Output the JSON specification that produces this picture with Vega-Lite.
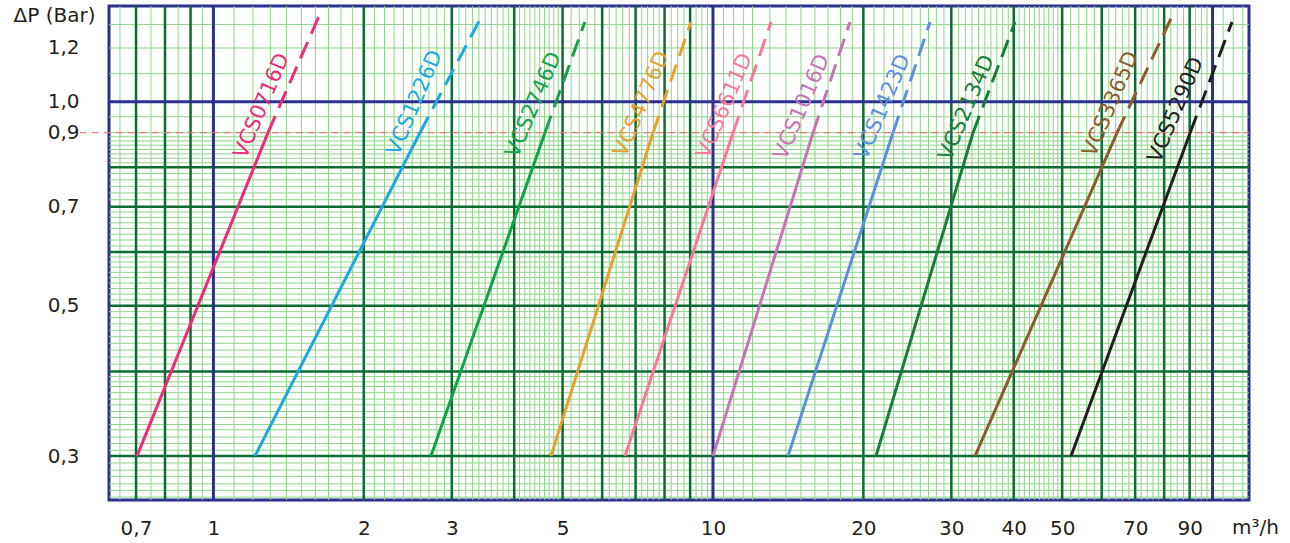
{
  "$schema": "https://vega.github.io/schema/vega-lite/v6.json",
  "width": 1140,
  "height": 494,
  "autosize": {"type": "none"},
  "padding": {"left": 109, "top": 6, "right": 41, "bottom": 43},
  "background": "white",
  "config": {"view": {"stroke": "#2b2f8e", "strokeWidth": 3}, "font": "DejaVu Sans"},
  "datasets": {
    "gx": [
      {"v": 0.65, "k": "minor"}, {"v": 0.75, "k": "minor"}, {"v": 0.85, "k": "minor"}, {"v": 0.95, "k": "minor"},
      {"v": 1.1, "k": "minor"}, {"v": 1.2, "k": "minor"}, {"v": 1.3, "k": "minor"}, {"v": 1.4, "k": "minor"}, {"v": 1.5, "k": "minor"}, {"v": 1.6, "k": "minor"}, {"v": 1.7, "k": "minor"}, {"v": 1.8, "k": "minor"}, {"v": 1.9, "k": "minor"},
      {"v": 2.1, "k": "minor"}, {"v": 2.2, "k": "minor"}, {"v": 2.3, "k": "minor"}, {"v": 2.4, "k": "minor"}, {"v": 2.5, "k": "minor"}, {"v": 2.6, "k": "minor"}, {"v": 2.7, "k": "minor"}, {"v": 2.8, "k": "minor"}, {"v": 2.9, "k": "minor"},
      {"v": 3.1, "k": "minor"}, {"v": 3.2, "k": "minor"}, {"v": 3.3, "k": "minor"}, {"v": 3.4, "k": "minor"}, {"v": 3.5, "k": "minor"}, {"v": 3.6, "k": "minor"}, {"v": 3.7, "k": "minor"}, {"v": 3.8, "k": "minor"}, {"v": 3.9, "k": "minor"},
      {"v": 4.1, "k": "minor"}, {"v": 4.2, "k": "minor"}, {"v": 4.3, "k": "minor"}, {"v": 4.4, "k": "minor"}, {"v": 4.5, "k": "minor"}, {"v": 4.6, "k": "minor"}, {"v": 4.7, "k": "minor"}, {"v": 4.8, "k": "minor"}, {"v": 4.9, "k": "minor"},
      {"v": 5.2, "k": "minor"}, {"v": 5.4, "k": "minor"}, {"v": 5.6, "k": "minor"}, {"v": 5.8, "k": "minor"},
      {"v": 6.2, "k": "minor"}, {"v": 6.4, "k": "minor"}, {"v": 6.6, "k": "minor"}, {"v": 6.8, "k": "minor"},
      {"v": 7.2, "k": "minor"}, {"v": 7.4, "k": "minor"}, {"v": 7.6, "k": "minor"}, {"v": 7.8, "k": "minor"},
      {"v": 8.25, "k": "minor"}, {"v": 8.5, "k": "minor"}, {"v": 8.75, "k": "minor"},
      {"v": 9.25, "k": "minor"}, {"v": 9.5, "k": "minor"}, {"v": 9.75, "k": "minor"},
      {"v": 10.5, "k": "minor"}, {"v": 11, "k": "minor"}, {"v": 11.5, "k": "minor"}, {"v": 12, "k": "minor"}, {"v": 13, "k": "minor"}, {"v": 14, "k": "minor"}, {"v": 15, "k": "minor"}, {"v": 16, "k": "minor"}, {"v": 17, "k": "minor"}, {"v": 18, "k": "minor"}, {"v": 19, "k": "minor"},
      {"v": 21, "k": "minor"}, {"v": 22, "k": "minor"}, {"v": 23, "k": "minor"}, {"v": 24, "k": "minor"}, {"v": 25, "k": "minor"}, {"v": 26, "k": "minor"}, {"v": 27, "k": "minor"}, {"v": 28, "k": "minor"}, {"v": 29, "k": "minor"},
      {"v": 31, "k": "minor"}, {"v": 32, "k": "minor"}, {"v": 33, "k": "minor"}, {"v": 34, "k": "minor"}, {"v": 35, "k": "minor"}, {"v": 36, "k": "minor"}, {"v": 37, "k": "minor"}, {"v": 38, "k": "minor"}, {"v": 39, "k": "minor"},
      {"v": 41, "k": "minor"}, {"v": 42, "k": "minor"}, {"v": 43, "k": "minor"}, {"v": 44, "k": "minor"}, {"v": 45, "k": "minor"}, {"v": 46, "k": "minor"}, {"v": 47, "k": "minor"}, {"v": 48, "k": "minor"}, {"v": 49, "k": "minor"},
      {"v": 52, "k": "minor"}, {"v": 54, "k": "minor"}, {"v": 56, "k": "minor"}, {"v": 58, "k": "minor"},
      {"v": 62, "k": "minor"}, {"v": 64, "k": "minor"}, {"v": 66, "k": "minor"}, {"v": 68, "k": "minor"},
      {"v": 72, "k": "minor"}, {"v": 74, "k": "minor"}, {"v": 76, "k": "minor"}, {"v": 78, "k": "minor"},
      {"v": 82.5, "k": "minor"}, {"v": 85, "k": "minor"}, {"v": 87.5, "k": "minor"},
      {"v": 92.5, "k": "minor"}, {"v": 95, "k": "minor"}, {"v": 97.5, "k": "minor"},
      {"v": 105, "k": "minor"}, {"v": 110, "k": "minor"}, {"v": 115, "k": "minor"},
      {"v": 0.7, "k": "major"}, {"v": 0.8, "k": "major"}, {"v": 0.9, "k": "major"},
      {"v": 2, "k": "major"}, {"v": 3, "k": "major"}, {"v": 4, "k": "major"}, {"v": 5, "k": "major"}, {"v": 6, "k": "major"}, {"v": 7, "k": "major"}, {"v": 8, "k": "major"}, {"v": 9, "k": "major"},
      {"v": 20, "k": "major"}, {"v": 30, "k": "major"}, {"v": 40, "k": "major"}, {"v": 50, "k": "major"}, {"v": 60, "k": "major"}, {"v": 70, "k": "major"}, {"v": 80, "k": "major"}, {"v": 90, "k": "major"},
      {"v": 1, "k": "decade"}, {"v": 10, "k": "decade"}, {"v": 100, "k": "decade"}
    ],
    "gy": [
      {"v": 0.261, "k": "minor"}, {"v": 0.267, "k": "minor"}, {"v": 0.273, "k": "minor"}, {"v": 0.28, "k": "minor"}, {"v": 0.286, "k": "minor"}, {"v": 0.293, "k": "minor"},
      {"v": 0.306, "k": "minor"}, {"v": 0.313, "k": "minor"}, {"v": 0.32, "k": "minor"}, {"v": 0.328, "k": "minor"}, {"v": 0.334, "k": "minor"}, {"v": 0.342, "k": "minor"}, {"v": 0.349, "k": "minor"}, {"v": 0.357, "k": "minor"}, {"v": 0.364, "k": "minor"}, {"v": 0.372, "k": "minor"}, {"v": 0.38, "k": "minor"}, {"v": 0.386, "k": "minor"}, {"v": 0.393, "k": "minor"},
      {"v": 0.41, "k": "minor"}, {"v": 0.42, "k": "minor"}, {"v": 0.43, "k": "minor"}, {"v": 0.44, "k": "minor"}, {"v": 0.45, "k": "minor"}, {"v": 0.46, "k": "minor"}, {"v": 0.47, "k": "minor"}, {"v": 0.48, "k": "minor"}, {"v": 0.49, "k": "minor"},
      {"v": 0.51, "k": "minor"}, {"v": 0.52, "k": "minor"}, {"v": 0.53, "k": "minor"}, {"v": 0.54, "k": "minor"}, {"v": 0.55, "k": "minor"}, {"v": 0.56, "k": "minor"}, {"v": 0.57, "k": "minor"}, {"v": 0.58, "k": "minor"}, {"v": 0.59, "k": "minor"},
      {"v": 0.6125, "k": "minor"}, {"v": 0.625, "k": "minor"}, {"v": 0.6375, "k": "minor"}, {"v": 0.65, "k": "minor"}, {"v": 0.6625, "k": "minor"}, {"v": 0.675, "k": "minor"}, {"v": 0.6875, "k": "minor"},
      {"v": 0.7167, "k": "minor"}, {"v": 0.7333, "k": "minor"}, {"v": 0.75, "k": "minor"}, {"v": 0.7667, "k": "minor"}, {"v": 0.7833, "k": "minor"},
      {"v": 0.8125, "k": "minor"}, {"v": 0.825, "k": "minor"}, {"v": 0.8375, "k": "minor"}, {"v": 0.85, "k": "minor"}, {"v": 0.8625, "k": "minor"}, {"v": 0.875, "k": "minor"}, {"v": 0.8875, "k": "minor"}, {"v": 0.9, "k": "minor"},
      {"v": 0.95, "k": "minor"}, {"v": 1.1, "k": "minor"}, {"v": 1.2, "k": "minor"}, {"v": 1.3, "k": "minor"},
      {"v": 0.3, "k": "major"}, {"v": 0.4, "k": "major"}, {"v": 0.5, "k": "major"}, {"v": 0.6, "k": "major"}, {"v": 0.7, "k": "major"}, {"v": 0.8, "k": "major"},
      {"v": 1.0, "k": "decade"}
    ],
    "ref": [{"p": 0.9, "q1": 0.54, "q2": 118.3}],
    "curves": [
      {"m": "VCS0716D", "s": "solid", "q": 0.703, "p": 0.3}, {"m": "VCS0716D", "s": "solid", "q": 1.286, "p": 0.9},
      {"m": "VCS0716D", "s": "dash", "q": 1.286, "p": 0.9}, {"m": "VCS0716D", "s": "dash", "q": 1.634, "p": 1.347},
      {"m": "VCS1226D", "s": "solid", "q": 1.211, "p": 0.3}, {"m": "VCS1226D", "s": "solid", "q": 2.591, "p": 0.9},
      {"m": "VCS1226D", "s": "dash", "q": 2.591, "p": 0.9}, {"m": "VCS1226D", "s": "dash", "q": 3.463, "p": 1.347},
      {"m": "VCS2746D", "s": "solid", "q": 2.725, "p": 0.3}, {"m": "VCS2746D", "s": "solid", "q": 4.61, "p": 0.9},
      {"m": "VCS2746D", "s": "dash", "q": 4.61, "p": 0.9}, {"m": "VCS2746D", "s": "dash", "q": 5.542, "p": 1.311},
      {"m": "VCS4776D", "s": "solid", "q": 4.739, "p": 0.3}, {"m": "VCS4776D", "s": "solid", "q": 7.585, "p": 0.9},
      {"m": "VCS4776D", "s": "dash", "q": 7.585, "p": 0.9}, {"m": "VCS4776D", "s": "dash", "q": 9.036, "p": 1.311},
      {"m": "VCS6611D", "s": "solid", "q": 6.665, "p": 0.3}, {"m": "VCS6611D", "s": "solid", "q": 10.97, "p": 0.9},
      {"m": "VCS6611D", "s": "dash", "q": 10.97, "p": 0.9}, {"m": "VCS6611D", "s": "dash", "q": 13.07, "p": 1.311},
      {"m": "VCS1016D", "s": "solid", "q": 10.0, "p": 0.3}, {"m": "VCS1016D", "s": "solid", "q": 15.86, "p": 0.9},
      {"m": "VCS1016D", "s": "dash", "q": 15.86, "p": 0.9}, {"m": "VCS1016D", "s": "dash", "q": 18.8, "p": 1.311},
      {"m": "VCS1423D", "s": "solid", "q": 14.13, "p": 0.3}, {"m": "VCS1423D", "s": "solid", "q": 22.93, "p": 0.9},
      {"m": "VCS1423D", "s": "dash", "q": 22.93, "p": 0.9}, {"m": "VCS1423D", "s": "dash", "q": 27.2, "p": 1.311},
      {"m": "VCS2134D", "s": "solid", "q": 21.2, "p": 0.3}, {"m": "VCS2134D", "s": "solid", "q": 33.16, "p": 0.9},
      {"m": "VCS2134D", "s": "dash", "q": 33.16, "p": 0.9}, {"m": "VCS2134D", "s": "dash", "q": 40.23, "p": 1.311},
      {"m": "VCS3365D", "s": "solid", "q": 33.46, "p": 0.3}, {"m": "VCS3365D", "s": "solid", "q": 64.4, "p": 0.9},
      {"m": "VCS3365D", "s": "dash", "q": 64.4, "p": 0.9}, {"m": "VCS3365D", "s": "dash", "q": 83.4, "p": 1.347},
      {"m": "VCS5290D", "s": "solid", "q": 52.08, "p": 0.3}, {"m": "VCS5290D", "s": "solid", "q": 90.2, "p": 0.9},
      {"m": "VCS5290D", "s": "dash", "q": 90.2, "p": 0.9}, {"m": "VCS5290D", "s": "dash", "q": 109.4, "p": 1.311}
    ],
    "labels": [
      {"m": "VCS0716D", "q": 1.251, "p": 0.9855},
      {"m": "VCS1226D", "q": 2.532, "p": 0.9956},
      {"m": "VCS2746D", "q": 4.381, "p": 0.989},
      {"m": "VCS4776D", "q": 7.208, "p": 0.992},
      {"m": "VCS6611D", "q": 10.57, "p": 0.9855},
      {"m": "VCS1016D", "q": 15.08, "p": 0.982},
      {"m": "VCS1423D", "q": 21.89, "p": 0.982},
      {"m": "VCS2134D", "q": 32.24, "p": 0.979},
      {"m": "VCS3365D", "q": 62.63, "p": 0.992},
      {"m": "VCS5290D", "q": 84.55, "p": 0.972}
    ]
  },
  "layer": [
    {
      "data": {"name": "curves"},
      "mark": {"type": "line", "strokeWidth": 3, "opacity": 0},
      "encoding": {
        "x": {
          "field": "q", "type": "quantitative",
          "scale": {"type": "log", "domain": [0.618, 118.3], "nice": false},
          "axis": {
            "values": [0.7, 1, 2, 3, 5, 10, 20, 30, 40, 50, 70, 90],
            "labelExpr": "replace(format(datum.value, '~g'), '.', ',')",
            "title": "m³/h", "titleX": 1146, "titleY": 27, "titleAlign": "center", "titleBaseline": "middle",
            "titleFontWeight": "normal", "titleFontSize": 20, "titleFont": "DejaVu Sans", "titleColor": "#231f20",
            "labelFontSize": 20, "labelFont": "DejaVu Sans", "labelColor": "#231f20", "labelPadding": 18,
            "ticks": false, "domain": false, "grid": false, "labelOverlap": false, "labelFlush": false
          }
        },
        "y": {
          "field": "p", "type": "quantitative",
          "scale": {"type": "log", "domain": [0.2584, 1.384], "nice": false},
          "axis": {
            "values": [0.3, 0.5, 0.7, 0.9, 1.0, 1.2],
            "labelExpr": "replace(format(datum.value, '.1f'), '.', ',')",
            "title": "ΔP (Bar)", "titleAngle": 0, "titleX": -55, "titleY": 9, "titleAlign": "center", "titleBaseline": "middle",
            "titleFontWeight": "normal", "titleFontSize": 20, "titleFont": "DejaVu Sans", "titleColor": "#231f20",
            "labelFontSize": 20, "labelFont": "DejaVu Sans", "labelColor": "#231f20", "labelPadding": 30,
            "ticks": false, "domain": false, "grid": false, "labelOverlap": false, "labelFlush": false
          }
        },
        "detail": {"field": "m", "type": "nominal"}
      }
    },
    {
      "data": {"name": "gx"},
      "transform": [{"filter": "datum.k == 'minor'"}],
      "mark": {"type": "rule", "color": "#8ed48a", "strokeWidth": 1},
      "encoding": {"x": {"field": "v", "type": "quantitative", "scale": {"type": "log", "domain": [0.618, 118.3], "nice": false}}}
    },
    {
      "data": {"name": "gy"},
      "transform": [{"filter": "datum.k == 'minor'"}],
      "mark": {"type": "rule", "color": "#8ed48a", "strokeWidth": 1},
      "encoding": {"y": {"field": "v", "type": "quantitative", "scale": {"type": "log", "domain": [0.2584, 1.384], "nice": false}}}
    },
    {
      "data": {"name": "gx"},
      "transform": [{"filter": "datum.k == 'major'"}],
      "mark": {"type": "rule", "color": "#0d6b34", "strokeWidth": 2.5},
      "encoding": {"x": {"field": "v", "type": "quantitative", "scale": {"type": "log", "domain": [0.618, 118.3], "nice": false}}}
    },
    {
      "data": {"name": "gy"},
      "transform": [{"filter": "datum.k == 'major'"}],
      "mark": {"type": "rule", "color": "#0d6b34", "strokeWidth": 2.5},
      "encoding": {"y": {"field": "v", "type": "quantitative", "scale": {"type": "log", "domain": [0.2584, 1.384], "nice": false}}}
    },
    {
      "data": {"name": "gx"},
      "transform": [{"filter": "datum.k == 'decade'"}],
      "mark": {"type": "rule", "color": "#2b2f8e", "strokeWidth": 3},
      "encoding": {"x": {"field": "v", "type": "quantitative", "scale": {"type": "log", "domain": [0.618, 118.3], "nice": false}}}
    },
    {
      "data": {"name": "gy"},
      "transform": [{"filter": "datum.k == 'decade'"}],
      "mark": {"type": "rule", "color": "#2b2f8e", "strokeWidth": 3},
      "encoding": {"y": {"field": "v", "type": "quantitative", "scale": {"type": "log", "domain": [0.2584, 1.384], "nice": false}}}
    },
    {
      "data": {"name": "ref"},
      "mark": {"type": "rule", "color": "#f26b6b", "strokeWidth": 1, "strokeDash": [7, 5]},
      "encoding": {
        "y": {"field": "p", "type": "quantitative", "scale": {"type": "log", "domain": [0.2584, 1.384], "nice": false}},
        "x": {"field": "q1", "type": "quantitative", "scale": {"type": "log", "domain": [0.618, 118.3], "nice": false}},
        "x2": {"field": "q2"}
      }
    },
    {
      "data": {"name": "curves"},
      "mark": {"type": "line", "strokeWidth": 3},
      "encoding": {
        "x": {"field": "q", "type": "quantitative", "scale": {"type": "log", "domain": [0.618, 118.3], "nice": false}},
        "y": {"field": "p", "type": "quantitative", "scale": {"type": "log", "domain": [0.2584, 1.384], "nice": false}},
        "color": {
          "field": "m", "type": "nominal", "legend": null,
          "scale": {
            "domain": ["VCS0716D", "VCS1226D", "VCS2746D", "VCS4776D", "VCS6611D", "VCS1016D", "VCS1423D", "VCS2134D", "VCS3365D", "VCS5290D"],
            "range": ["#ee2a7b", "#1ea7e1", "#13a14b", "#e5a130", "#f7799a", "#c774b5", "#5e8fdc", "#1b7b3c", "#8c5b2e", "#231f20"]
          }
        },
        "strokeDash": {
          "field": "s", "type": "nominal", "legend": null,
          "scale": {"domain": ["solid", "dash"], "range": [[1, 0], [18, 9]]}
        }
      }
    },
    {
      "data": {"name": "labels"},
      "mark": {"type": "text", "angle": -67, "align": "center", "baseline": "middle", "fontSize": 21, "font": "DejaVu Sans"},
      "encoding": {
        "x": {"field": "q", "type": "quantitative", "scale": {"type": "log", "domain": [0.618, 118.3], "nice": false}},
        "y": {"field": "p", "type": "quantitative", "scale": {"type": "log", "domain": [0.2584, 1.384], "nice": false}},
        "text": {"field": "m", "type": "nominal"},
        "color": {
          "field": "m", "type": "nominal", "legend": null,
          "scale": {
            "domain": ["VCS0716D", "VCS1226D", "VCS2746D", "VCS4776D", "VCS6611D", "VCS1016D", "VCS1423D", "VCS2134D", "VCS3365D", "VCS5290D"],
            "range": ["#ee2a7b", "#1ea7e1", "#13a14b", "#e5a130", "#f7799a", "#c774b5", "#5e8fdc", "#1b7b3c", "#8c5b2e", "#231f20"]
          }
        }
      }
    }
  ]
}
